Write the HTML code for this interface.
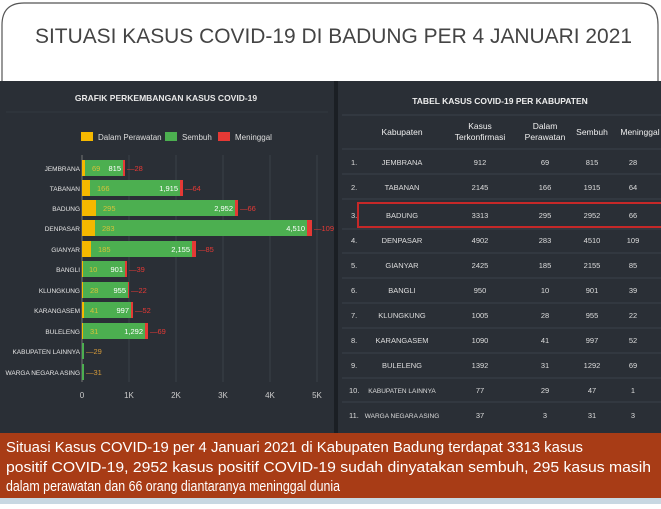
<!DOCTYPE html>
<html><head><meta charset="utf-8"><style>
body{margin:0;width:661px;height:504px;overflow:hidden;background:#fff;font-family:"Liberation Sans",sans-serif}
</style></head><body>
<svg width="661" height="504" viewBox="0 0 661 504" xmlns="http://www.w3.org/2000/svg" font-family="Liberation Sans, sans-serif">
<rect width="661" height="504" fill="#fff"/>
<path d="M2,90 V25 Q2,3 24,3 H640 Q658,3 658,25 V90" fill="none" stroke="#555" stroke-width="1.2"/>
<text x="35" y="43" font-size="21" fill="#444" textLength="597" lengthAdjust="spacingAndGlyphs">SITUASI KASUS COVID-19 DI BADUNG PER 4 JANUARI 2021</text>
<rect x="0" y="81" width="661" height="353" fill="#262b31"/>
<rect x="0" y="81" width="334" height="353" fill="#2a2f36"/>
<rect x="334" y="81" width="4" height="353" fill="#1b1f24"/>
<rect x="338" y="81" width="323" height="353" fill="#2a2f36"/>
<line x1="6" y1="112" x2="328" y2="112" stroke="#333940"/>
<text x="166" y="101" font-size="8.5" font-weight="bold" fill="#e8e8e8" text-anchor="middle">GRAFIK PERKEMBANGAN KASUS COVID-19</text>
<rect x="81" y="132" width="12" height="9" fill="#f5b800"/><text x="98" y="140" font-size="8" fill="#ddd">Dalam Perawatan</text>
<rect x="165" y="132" width="12" height="9" fill="#4caf50"/><text x="182" y="140" font-size="8" fill="#ddd">Sembuh</text>
<rect x="218" y="132" width="12" height="9" fill="#e53935"/><text x="235" y="140" font-size="8" fill="#ddd">Meninggal</text>
<g stroke="#3a4048" stroke-width="1">
<line x1="129" y1="155" x2="129" y2="382"/><line x1="176" y1="155" x2="176" y2="382"/><line x1="223" y1="155" x2="223" y2="382"/><line x1="270" y1="155" x2="270" y2="382"/><line x1="317" y1="155" x2="317" y2="382"/>
</g>
<line x1="82" y1="155" x2="82" y2="382" stroke="#777"/>
<g font-size="8" fill="#ccc" text-anchor="middle">
<text x="82" y="398">0</text><text x="129" y="398">1K</text><text x="176" y="398">2K</text><text x="223" y="398">3K</text><text x="270" y="398">4K</text><text x="317" y="398">5K</text>
</g>
<g font-size="6.5" fill="#e6e6e6" text-anchor="end">
<text x="80" y="171">JEMBRANA</text><text x="80" y="191">TABANAN</text><text x="80" y="211">BADUNG</text><text x="80" y="231">DENPASAR</text><text x="80" y="252">GIANYAR</text><text x="80" y="272">BANGLI</text><text x="80" y="293">KLUNGKUNG</text><text x="80" y="313">KARANGASEM</text><text x="80" y="334">BULELENG</text><text x="80" y="354">KABUPATEN LAINNYA</text><text x="80" y="375">WARGA NEGARA ASING</text>
</g>
<g>
<rect x="82" y="160" width="3" height="16" fill="#f5b800"/><rect x="85" y="160" width="38" height="16" fill="#4caf50"/><rect x="123" y="160" width="2" height="16" fill="#e53935"/>
<rect x="82" y="180" width="8" height="16" fill="#f5b800"/><rect x="90" y="180" width="90" height="16" fill="#4caf50"/><rect x="180" y="180" width="3" height="16" fill="#e53935"/>
<rect x="82" y="200" width="14" height="16" fill="#f5b800"/><rect x="96" y="200" width="139" height="16" fill="#4caf50"/><rect x="235" y="200" width="3" height="16" fill="#e53935"/>
<rect x="82" y="220" width="13" height="16" fill="#f5b800"/><rect x="95" y="220" width="212" height="16" fill="#4caf50"/><rect x="307" y="220" width="5" height="16" fill="#e53935"/>
<rect x="82" y="241" width="9" height="16" fill="#f5b800"/><rect x="91" y="241" width="101" height="16" fill="#4caf50"/><rect x="192" y="241" width="4" height="16" fill="#e53935"/>
<rect x="82" y="261" width="1" height="16" fill="#f5b800"/><rect x="83" y="261" width="42" height="16" fill="#4caf50"/><rect x="125" y="261" width="2" height="16" fill="#e53935"/>
<rect x="82" y="282" width="1" height="16" fill="#f5b800"/><rect x="83" y="282" width="45" height="16" fill="#4caf50"/><rect x="128" y="282" width="1" height="16" fill="#e53935"/>
<rect x="82" y="302" width="2" height="16" fill="#f5b800"/><rect x="84" y="302" width="47" height="16" fill="#4caf50"/><rect x="131" y="302" width="2" height="16" fill="#e53935"/>
<rect x="82" y="323" width="1" height="16" fill="#f5b800"/><rect x="83" y="323" width="62" height="16" fill="#4caf50"/><rect x="145" y="323" width="3" height="16" fill="#e53935"/>
<rect x="82" y="343" width="2" height="16" fill="#4caf50"/><rect x="82" y="364" width="2" height="16" fill="#4caf50"/>
</g>
<g font-size="7.5">
<text x="92" y="171" fill="#d4c23a">69</text><text x="121" y="171" fill="#fff" text-anchor="end">815</text><text x="127" y="171" fill="#e53935">—28</text>
<text x="97" y="191" fill="#d4c23a">166</text><text x="178" y="191" fill="#fff" text-anchor="end">1,915</text><text x="185" y="191" fill="#e53935">—64</text>
<text x="103" y="211" fill="#d4c23a">295</text><text x="233" y="211" fill="#fff" text-anchor="end">2,952</text><text x="240" y="211" fill="#e53935">—66</text>
<text x="102" y="231" fill="#d4c23a">283</text><text x="305" y="231" fill="#fff" text-anchor="end">4,510</text><text x="314" y="231" fill="#e53935">—109</text>
<text x="98" y="252" fill="#d4c23a">185</text><text x="190" y="252" fill="#fff" text-anchor="end">2,155</text><text x="198" y="252" fill="#e53935">—85</text>
<text x="89" y="272" fill="#d4c23a">10</text><text x="123" y="272" fill="#fff" text-anchor="end">901</text><text x="129" y="272" fill="#e53935">—39</text>
<text x="90" y="293" fill="#d4c23a">28</text><text x="126" y="293" fill="#fff" text-anchor="end">955</text><text x="131" y="293" fill="#e53935">—22</text>
<text x="90" y="313" fill="#d4c23a">41</text><text x="129" y="313" fill="#fff" text-anchor="end">997</text><text x="135" y="313" fill="#e53935">—52</text>
<text x="90" y="334" fill="#d4c23a">31</text><text x="143" y="334" fill="#fff" text-anchor="end">1,292</text><text x="150" y="334" fill="#e53935">—69</text>
<text x="86" y="354" fill="#d49a3a">—29</text><text x="86" y="375" fill="#d49a3a">—31</text>
</g>
<text x="500" y="104" font-size="8.5" font-weight="bold" fill="#eee" text-anchor="middle">TABEL KASUS COVID-19 PER KABUPATEN</text>
<g stroke="#3a4149"><line x1="342" y1="115" x2="661" y2="115"/><line x1="342" y1="149" x2="661" y2="149"/>
<line x1="342" y1="174" x2="661" y2="174"/><line x1="342" y1="199" x2="661" y2="199"/><line x1="342" y1="229" x2="661" y2="229"/><line x1="342" y1="253" x2="661" y2="253"/><line x1="342" y1="278" x2="661" y2="278"/><line x1="342" y1="303" x2="661" y2="303"/><line x1="342" y1="328" x2="661" y2="328"/><line x1="342" y1="353" x2="661" y2="353"/><line x1="342" y1="378" x2="661" y2="378"/><line x1="342" y1="402" x2="661" y2="402"/></g>
<g font-size="8.5" fill="#eee" text-anchor="middle">
<text x="402" y="135">Kabupaten</text>
<text x="480" y="129">Kasus</text><text x="480" y="140">Terkonfirmasi</text>
<text x="545" y="129">Dalam</text><text x="545" y="140">Perawatan</text>
<text x="592" y="135">Sembuh</text><text x="640" y="135">Meninggal</text>
</g>
<rect x="358" y="203" width="304" height="24" fill="none" stroke="#c62828" stroke-width="2"/>
<g font-size="7.5" fill="#ddd" text-anchor="middle">
<g transform="translate(0,165)"><text x="351" text-anchor="start">1.</text><text x="402">JEMBRANA</text><text x="480">912</text><text x="545">69</text><text x="592">815</text><text x="633">28</text></g>
<g transform="translate(0,190)"><text x="351" text-anchor="start">2.</text><text x="402">TABANAN</text><text x="480">2145</text><text x="545">166</text><text x="592">1915</text><text x="633">64</text></g>
<g transform="translate(0,218)"><text x="351" text-anchor="start">3.</text><text x="402">BADUNG</text><text x="480">3313</text><text x="545">295</text><text x="592">2952</text><text x="633">66</text></g>
<g transform="translate(0,243)"><text x="351" text-anchor="start">4.</text><text x="402">DENPASAR</text><text x="480">4902</text><text x="545">283</text><text x="592">4510</text><text x="633">109</text></g>
<g transform="translate(0,268)"><text x="351" text-anchor="start">5.</text><text x="402">GIANYAR</text><text x="480">2425</text><text x="545">185</text><text x="592">2155</text><text x="633">85</text></g>
<g transform="translate(0,293)"><text x="351" text-anchor="start">6.</text><text x="402">BANGLI</text><text x="480">950</text><text x="545">10</text><text x="592">901</text><text x="633">39</text></g>
<g transform="translate(0,318)"><text x="351" text-anchor="start">7.</text><text x="402">KLUNGKUNG</text><text x="480">1005</text><text x="545">28</text><text x="592">955</text><text x="633">22</text></g>
<g transform="translate(0,343)"><text x="351" text-anchor="start">8.</text><text x="402">KARANGASEM</text><text x="480">1090</text><text x="545">41</text><text x="592">997</text><text x="633">52</text></g>
<g transform="translate(0,368)"><text x="351" text-anchor="start">9.</text><text x="402">BULELENG</text><text x="480">1392</text><text x="545">31</text><text x="592">1292</text><text x="633">69</text></g>
<g transform="translate(0,393)"><text x="349" text-anchor="start">10.</text><text x="402" font-size="6.5">KABUPATEN LAINNYA</text><text x="480">77</text><text x="545">29</text><text x="592">47</text><text x="633">1</text></g>
<g transform="translate(0,418)"><text x="349" text-anchor="start">11.</text><text x="402" font-size="6.5">WARGA NEGARA ASING</text><text x="480">37</text><text x="545">3</text><text x="592">31</text><text x="633">3</text></g>
</g>
<rect x="0" y="433" width="661" height="65" fill="#a83c16"/>
<rect x="0" y="498" width="661" height="6" fill="#c8d8e2"/>
<g font-size="14.5" fill="#fff">
<text x="6" y="452" textLength="577" lengthAdjust="spacingAndGlyphs">Situasi Kasus COVID-19 per 4 Januari 2021 di Kabupaten Badung terdapat 3313 kasus</text>
<text x="6" y="472" textLength="645" lengthAdjust="spacingAndGlyphs">positif COVID-19, 2952 kasus positif COVID-19 sudah dinyatakan sembuh, 295 kasus masih</text>
<text x="6" y="491" textLength="334" lengthAdjust="spacingAndGlyphs">dalam perawatan dan 66 orang diantaranya meninggal dunia</text>
</g>
</svg>
</body></html>
